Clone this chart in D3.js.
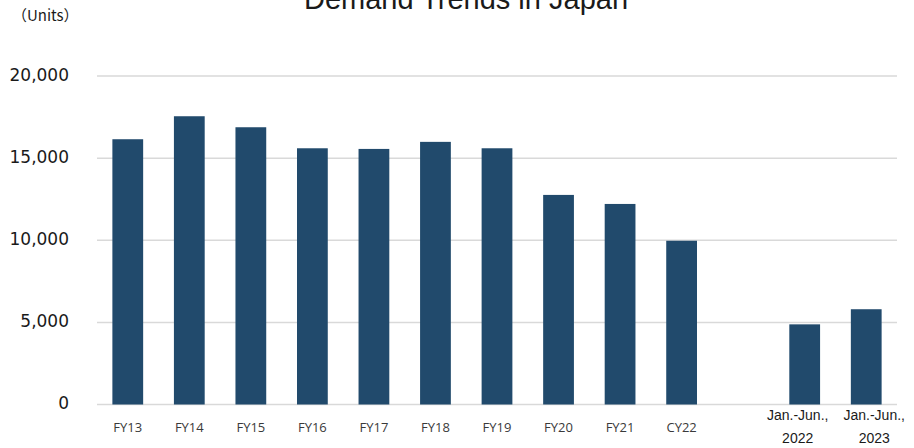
<!DOCTYPE html>
<html>
<head>
<meta charset="utf-8">
<script src="https://cdn.jsdelivr.net/npm/d3@7"></script>
<style>
  body { margin: 0; background: #fff; }
</style>
</head>
<body>
<div id="chart"></div>
<script>
// slot keys (one blank slot between CY22 and the half-year bars)
var categories = ["FY13", "FY14", "FY15", "FY16", "FY17", "FY18", "FY19", "FY20", "FY21", "CY22", "gap", "H1-2022", "H1-2023"];
var values = [16150, 17550, 16880, 15600, 15560, 15990, 15600, 12760, 12210, 9970, null, 4880, 5800];
var tickLabels = [["FY13"], ["FY14"], ["FY15"], ["FY16"], ["FY17"], ["FY18"], ["FY19"], ["FY20"], ["FY21"], ["CY22"], [""], ["Jan.-Jun.,", "2022"], ["Jan.-Jun.,", "2023"]];
var yTicks = [0, 5000, 10000, 15000, 20000];

var width = 914, height = 448;
var margin = { top: 76, right: 17, bottom: 43.5, left: 97 };

var data = categories.map((c, i) => ({ key: c, value: values[i], label: tickLabels[i] }));

var svg = d3.select("#chart")
    .append("svg")
    .attr("width", width)
    .attr("height", height);

var x = d3.scaleBand()
    .domain(categories)
    .range([margin.left, width - margin.right])
    .paddingInner(0.5)
    .paddingOuter(0.25);

var y = d3.scaleLinear()
    .domain([0, 20000])
    .range([height - margin.bottom, margin.top]);

// gridlines
svg.append("g")
    .selectAll("line")
    .data(yTicks)
    .enter()
    .append("line")
    .attr("x1", margin.left)
    .attr("x2", width - margin.right)
    .attr("y1", d => y(d))
    .attr("y2", d => y(d))
    .attr("stroke", "#d9d9d9")
    .attr("stroke-width", 1.5);

// y labels
svg.append("g")
    .selectAll("text")
    .data(yTicks)
    .enter()
    .append("text")
    .attr("x", 69)
    .attr("y", d => y(d) + 4.5)
    .attr("text-anchor", "end")
    .style("font-family", "DejaVu Sans")
    .style("font-size", "17px")
    .style("fill", "#1a1a1a")
    .text(d => d3.format(",")(d));

// bars
svg.append("g")
    .attr("fill", "#214a6c")
    .selectAll("rect")
    .data(data.filter(d => d.value != null))
    .enter()
    .append("rect")
    .attr("x", d => x(d.key))
    .attr("y", d => y(d.value))
    .attr("width", x.bandwidth())
    .attr("height", d => y(0) - y(d.value));

// x labels
var xl = svg.append("g")
    .selectAll("text")
    .data(data)
    .enter()
    .append("text")
    .attr("text-anchor", "middle")
    .style("fill", "#3a3a3a");

xl.filter(d => d.label.length == 1)
    .attr("x", d => x(d.key) + x.bandwidth() / 2)
    .attr("y", 431.5)
    .style("font-family", "Open Sans")
    .style("font-size", "13px")
    .text(d => d.label[0]);

// two-line labels (Excel nudges them apart)
xl.filter(d => d.label.length == 2)
    .style("font-family", "Liberation Sans, Arial")
    .style("font-size", "14px")
    .style("fill", "#1a1a1a")
    .each(function (d, i) {
        var cx = x(d.key) + x.bandwidth() / 2 + (i == 0 ? -7 : 8);
        d3.select(this).selectAll("tspan")
            .data(d.label)
            .enter()
            .append("tspan")
            .attr("x", cx)
            .attr("y", (t, j) => 420 + j * 23)
            .text(t => t);
    });

// units
svg.append("text")
    .attr("x", 12)
    .attr("y", 21)
    .style("font-family", "Noto Sans CJK JP")
    .style("font-size", "15px")
    .style("fill", "#1a1a1a")
    .text("（Units）");

// title (top is clipped in the original)
svg.append("text")
    .attr("x", 466)
    .attr("y", 9)
    .attr("text-anchor", "middle")
    .style("font-family", "Liberation Sans, Arial")
    .style("font-size", "29px")
    .style("fill", "#1a1a1a")
    .text("Demand Trends in Japan");
</script>
</body>
</html>
